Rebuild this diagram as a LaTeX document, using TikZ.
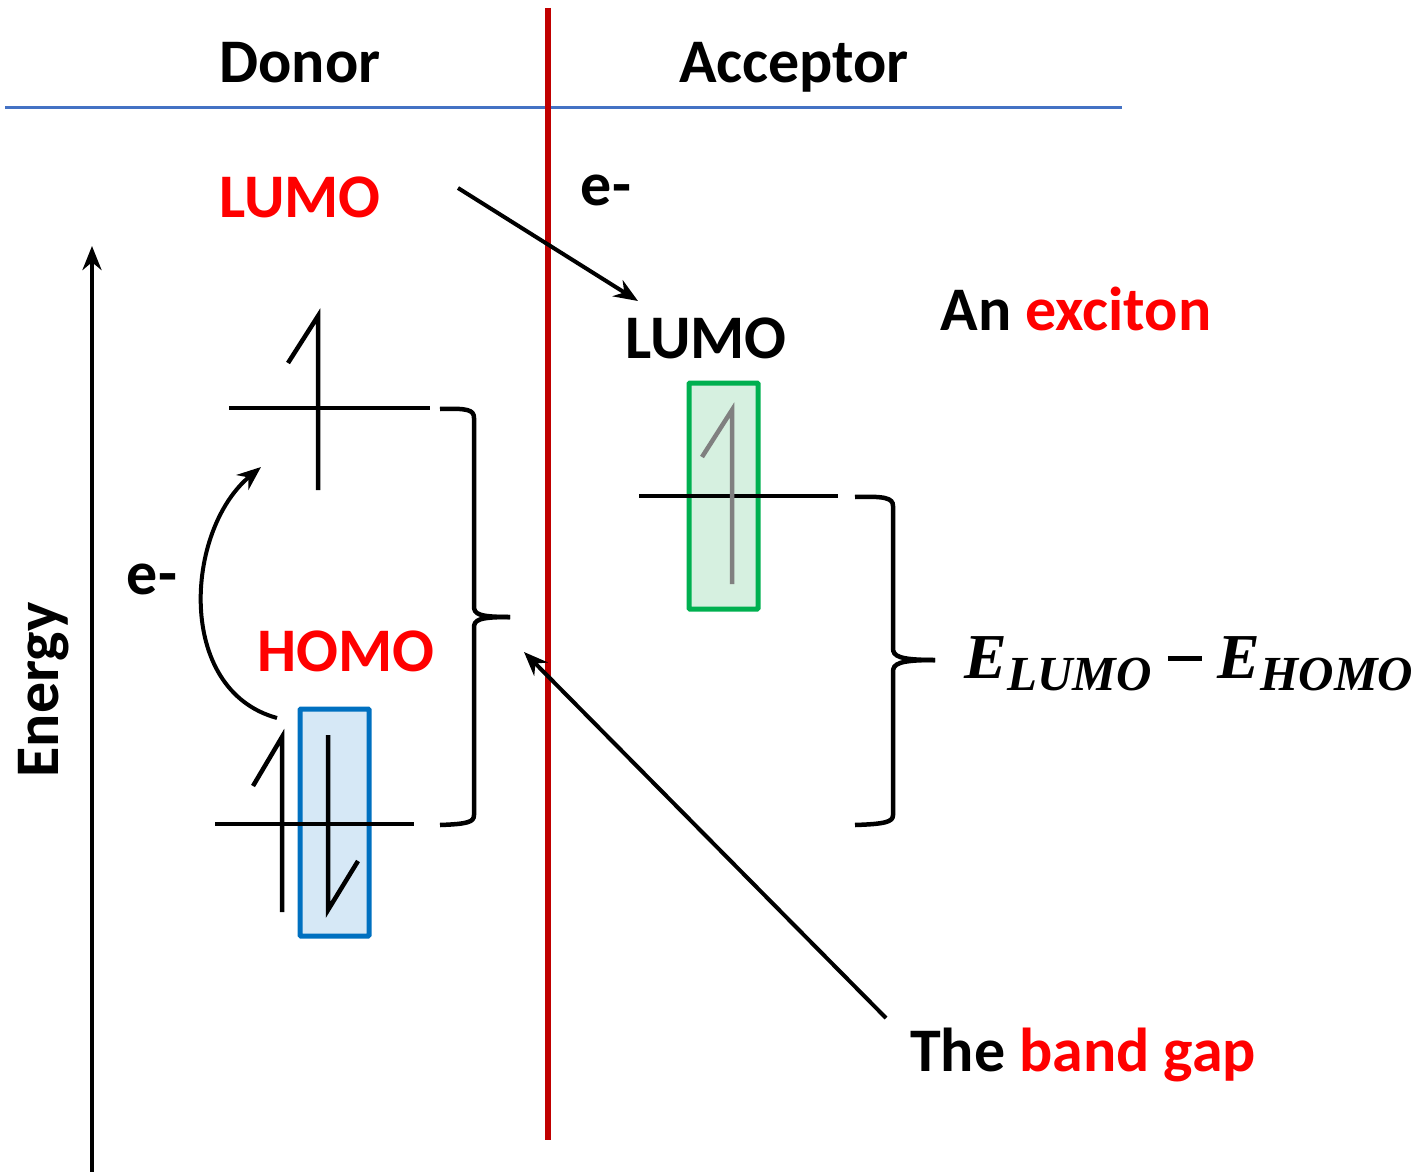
\documentclass[tikz,border=0pt]{standalone}
\usepackage{fontspec}
\setmainfont{Carlito}
\newfontfamily\mathish{Liberation Serif}
\usetikzlibrary{arrows.meta}
\definecolor{myred}{RGB}{255,0,0}
\definecolor{linered}{RGB}{192,0,0}
\definecolor{lineblue}{RGB}{68,114,196}
\definecolor{boxblue}{RGB}{0,112,192}
\definecolor{boxbluefill}{RGB}{214,232,246}
\definecolor{boxgreen}{RGB}{0,176,80}
\definecolor{boxgreenfill}{RGB}{214,240,224}
\definecolor{spin}{RGB}{128,128,128}
\tikzset{
  lbl/.style={font=\fontsize{62}{70}\selectfont\bfseries, inner sep=0pt, anchor=base},
  level/.style={line width=4.5pt},
  spinline/.style={line width=4.5pt},
  arr/.style={line width=4pt, -{Stealth[length=24pt,width=19pt]}},
  bracestyle/.style={line width=4.5pt},
}
\begin{document}
\begin{tikzpicture}[x=1pt,y=-1pt]
\useasboundingbox (0,0) rectangle (1416,1172);
% header lines
\draw[lineblue, line width=3pt] (5,107) -- (1122,107);
\draw[linered, line width=5.5pt] (548,8) -- (548,1140);
\node[lbl] (donor) at (300,82) {Donor};
\node[lbl] (acceptor) at (794,82) {Acceptor};
% energy axis
\coordinate (ebot) at (92,1172);
\coordinate (etop) at (92,246);
\draw[arr] (ebot) -- (etop);
\node[lbl, rotate=90] (energy) at (58,690) {Energy};
% donor LUMO label
\node[lbl, text=myred] (dlumo) at (300,217) {LUMO};
\node[lbl] (e1) at (606,205) {e-};
\node[lbl] (alumo) at (706,358) {LUMO};
\node[lbl] (exc) at (1076,330) {An \textcolor{myred}{exciton}};
\coordinate (a1s) at (458,188);
\coordinate (a1e) at (638,301);
\draw[arr] (a1s) -- (a1e);
% donor LUMO level
\draw[level] (229,408) -- (430,408);
\draw[spinline] (318,490) -- (318,316) -- (288,363);
% curved arrow
\coordinate (cs) at (277,718);
\coordinate (ce) at (261,467);
\draw[arr] (cs) .. controls (175,690) and (185,530) .. (ce);
\node[lbl] (e2) at (152,594) {e-};
% HOMO
\node[lbl, text=myred] (homo) at (346,671) {HOMO};
\draw[boxblue, line width=5pt, fill=boxbluefill, rounded corners=1pt] (300,709) rectangle (369,936);
\draw[level] (215,824) -- (414,824);
\draw[spinline] (282,912) -- (282,737) -- (253,786);
\draw[spinline] (328,735) -- (328,910) -- (358,861);
% left brace
\draw[bracestyle] (440,409) .. controls (468,408) and (474,410) .. (474,418) -- (474,606)
  .. controls (474,614) and (478,617) .. (510,617);
\draw[bracestyle] (510,617) .. controls (478,617) and (474,620) .. (474,628) -- (474,815)
  .. controls (474,822) and (468,824) .. (440,825);
% acceptor LUMO
\draw[boxgreen, line width=5pt, fill=boxgreenfill, rounded corners=1pt] (689,383) rectangle (758,609);
\draw[level] (639,496) -- (838,496);
\draw[spin, spinline] (732,584) -- (732,410) -- (702,457);
% right brace
\draw[bracestyle] (855,497) .. controls (885,496) and (893,498) .. (893,506) -- (893,648)
  .. controls (893,656) and (898,660) .. (935,660);
\draw[bracestyle] (935,660) .. controls (898,660) and (893,664) .. (893,672) -- (893,815)
  .. controls (893,822) and (885,824) .. (855,825);
\node[font=\mathish\fontsize{64}{70}\selectfont\bfseries\itshape, inner sep=0pt, anchor=base] (formula) at (1189,678)
  {E\raisebox{-0.2em}{\fontsize{49}{54}\selectfont LUMO}\hspace{0.25em}\raisebox{0.26em}{\rule{34pt}{5pt}}\hspace{0.25em}E\raisebox{-0.2em}{\fontsize{49}{54}\selectfont HOMO}};
% band gap
\node[lbl] (gap) at (1083,1071) {The \textcolor{myred}{band gap}};
\coordinate (gs) at (886,1018);
\coordinate (ge) at (524,652);
\draw[arr] (gs) -- (ge);
\end{tikzpicture}
\end{document}
